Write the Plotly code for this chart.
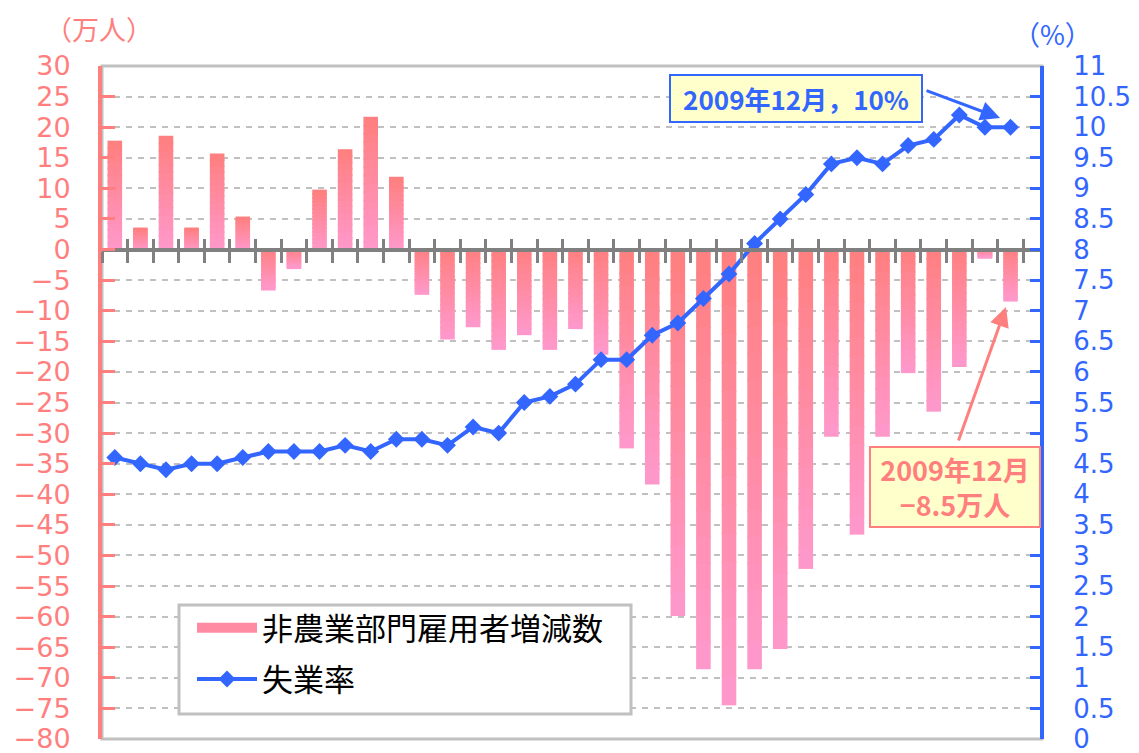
import plotly.graph_objects as go

# ---- data -------------------------------------------------------------
months = [f"{y}年{m}月" for y in (2007, 2008, 2009) for m in range(1, 13)]

# 非農業部門雇用者増減数 (万人)
payroll_change = [
    17.8, 3.6, 18.6, 3.6, 15.7, 5.4, -6.7, -3.2, 9.8, 16.4, 21.7, 11.9,
    -7.4, -14.7, -12.7, -16.4, -14.0, -16.4, -13.0, -17.2, -32.5, -38.4, -59.9, -68.6,
    -74.5, -68.6, -65.3, -52.2, -30.6, -46.6, -30.6, -20.2, -26.5, -19.2, -1.5, -8.5,
]

# 失業率 (%)
unemployment = [
    4.6, 4.5, 4.4, 4.5, 4.5, 4.6, 4.7, 4.7, 4.7, 4.8, 4.7, 4.9,
    4.9, 4.8, 5.1, 5.0, 5.5, 5.6, 5.8, 6.2, 6.2, 6.6, 6.8, 7.2,
    7.6, 8.1, 8.5, 8.9, 9.4, 9.5, 9.4, 9.7, 9.8, 10.2, 10.0, 10.0,
]

bar_name = "非農業部門雇用者増減数"
line_name = "失業率"

# ---- style ------------------------------------------------------------
SALMON = (255, 127, 127)
PINK = (255, 153, 204)
BLUE = "#3366FF"
RED = "#FF7F7F"
FONT = "Noto Sans CJK JP"
NUMFONT = "DejaVu Sans"
N_SEG = 16
OVERLAP = 0.25  # slice overlap (in axis units) to hide seams


def mix(t):
    r = [round(SALMON[i] + (PINK[i] - SALMON[i]) * t) for i in range(3)]
    return f"rgb({r[0]},{r[1]},{r[2]})"


fig = go.Figure()

# gradient bars drawn as stacked slices of each data bar
for k in range(N_SEG):
    bases, heights, colors = [], [], []
    for v in payroll_change:
        s = 1 if v >= 0 else -1
        ext = 0 if k == 0 else OVERLAP * s
        bases.append(v * k / N_SEG - ext)
        heights.append(v / N_SEG + ext)
        frac = (k + 0.5) / N_SEG
        colors.append(mix(1 - frac if v >= 0 else frac))
    fig.add_trace(go.Bar(
        x=months, y=heights, base=bases,
        width=0.57,
        marker=dict(color=colors, line=dict(width=0)),
        name=bar_name,
        legendgroup="bar",
        showlegend=False,
        xaxis="x", yaxis="y",
        hoverinfo="skip",
    ))

# legend proxy for the bar series (wide rectangle symbol)
fig.add_trace(go.Scatter(
    x=[None], y=[None], mode="lines",
    name=bar_name, legendgroup="bar",
    line=dict(color=mix(0.45), width=20),
    xaxis="x", yaxis="y",
))

fig.add_trace(go.Scatter(
    x=months, y=unemployment,
    mode="lines+markers",
    name=line_name,
    legendgroup="line",
    line=dict(color=BLUE, width=4),
    marker=dict(symbol="diamond", size=13, color=BLUE),
    xaxis="x2", yaxis="y2",
))

zero_pos = 80 / 110  # position of y=0 within the left axis range [-80, 30]

common_x = dict(
    type="category",
    tickson="boundaries",
    showticklabels=False,
    showgrid=False,
    zeroline=False,
    ticklen=11,
    tickwidth=3,
    tickcolor="#808080",
    anchor="free",
    position=zero_pos,
    automargin=False,
)


def px_x(px):
    return (px - 102) / 940


def px_y(py):
    return (739 - py) / 673


fig.update_layout(
    width=1131, height=745,
    margin=dict(l=94, r=97, t=58, b=14, autoexpand=False),
    paper_bgcolor="white",
    plot_bgcolor="white",
    barmode="overlay",
    font=dict(family=FONT),
    xaxis=dict(
        **common_x,
        range=[-0.5, 36.23],
        ticks="outside",
        showline=True, linecolor="#808080", linewidth=4,
    ),
    xaxis2=dict(
        **common_x,
        overlaying="x",
        matches="x",
        ticks="inside",
        showline=False,
    ),
    yaxis=dict(
        range=[-80, 30], dtick=5, tick0=0,
        showgrid=True, gridcolor="#C0C0C0", gridwidth=2, griddash="6px,6px",
        zeroline=False,
        showline=True, linecolor=RED, linewidth=4,
        ticks="inside", ticklen=13, tickwidth=3, tickcolor=RED,
        tickfont=dict(color=RED, size=27, family=NUMFONT),
        ticklabelstandoff=22,
        ticklabeloverflow="allow",
        automargin=False,
    ),
    yaxis2=dict(
        range=[0, 11], dtick=0.5, tick0=0,
        overlaying="y", side="right", anchor="free", position=1,
        showgrid=False, zeroline=False,
        showline=True, linecolor=BLUE, linewidth=4,
        ticks="inside", ticklen=10, tickwidth=3, tickcolor=BLUE,
        tickfont=dict(color=BLUE, size=26, family=NUMFONT),
        ticklabelstandoff=24,
        ticklabeloverflow="allow",
        automargin=False,
    ),
    legend=dict(
        x=px_x(192), y=px_y(601),
        xanchor="left", yanchor="top",
        bgcolor="rgba(0,0,0,0)", borderwidth=0,
        font=dict(size=31, color="black", family=FONT),
        itemwidth=60,
        traceorder="grouped",
        tracegroupgap=8,
    ),
    shapes=[
        dict(type="rect", xref="paper", yref="paper", x0=0, x1=1, y0=0, y1=1,
             line=dict(color="#C0C0C0", width=3), layer="below"),
        # legend frame
        dict(type="rect", xref="paper", yref="paper",
             x0=px_x(179), x1=px_x(631), y0=px_y(714), y1=px_y(605),
             line=dict(color="#C0C0C0", width=3), fillcolor="white", layer="above"),
    ],
    annotations=[
        dict(text="（万人）", xref="paper", yref="paper", x=px_x(99), y=px_y(29),
             xanchor="center", yanchor="middle",
             showarrow=False, font=dict(color=RED, size=27, family=FONT)),
        dict(text="（%）", xref="paper", yref="paper", x=px_x(1052), y=px_y(34),
             xanchor="center", yanchor="middle",
             showarrow=False, font=dict(color=BLUE, size=27, family=FONT)),
        # blue callout
        dict(text="<b>2009年12月，10%</b>", xref="paper", yref="paper",
             x=px_x(796), y=px_y(98.5), xanchor="center", yanchor="middle",
             showarrow=False, bgcolor="#FFFFCC", bordercolor=BLUE, borderwidth=2,
             width=248, height=43,
             font=dict(color=BLUE, size=26, family=FONT)),
        dict(text="", xref="x2", yref="y2", x=34.59, y=10.15,
             ax=-75, ay=-28, showarrow=True, arrowcolor=BLUE,
             arrowwidth=3, arrowhead=2, arrowsize=1.3),
        # pink callout
        dict(text="<b>2009年12月<br>−8.5万人</b>", xref="paper", yref="paper",
             x=px_x(955), y=px_y(487), xanchor="center", yanchor="middle",
             showarrow=False, bgcolor="#FFFFCC", bordercolor=RED, borderwidth=2,
             width=166, height=76,
             font=dict(color=RED, size=27, family=FONT)),
        dict(text="", xref="x", yref="y", x=months[35], y=-9.4,
             xshift=(1006 - 1010.5), ax=-48, ay=135, showarrow=True,
             arrowcolor=RED, arrowwidth=3, arrowhead=2, arrowsize=1.3),
    ],
)

fig.write_html("out.html")
